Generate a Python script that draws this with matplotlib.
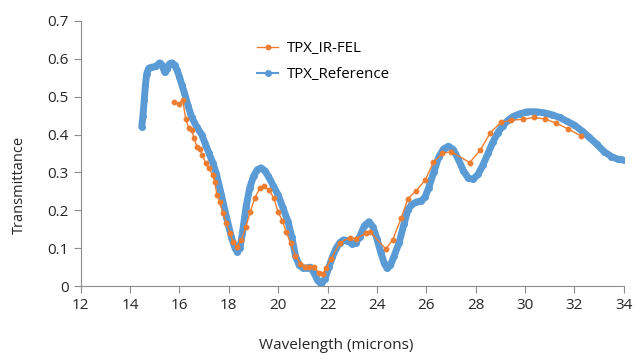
import matplotlib.pyplot as plt
from matplotlib.ticker import FuncFormatter
from matplotlib.lines import Line2D

# reference spectrum (blue)
ref_wl = [14.47, 14.52, 14.57, 14.62, 14.67, 14.75, 14.9, 15.05, 15.2, 15.3, 15.4, 15.5,
          15.6, 15.7, 15.8, 15.9, 16.0, 16.1, 16.2, 16.35, 16.5, 16.7, 16.9, 17.05, 17.2,
          17.35, 17.5, 17.7, 17.9, 18.1, 18.25, 18.35, 18.45, 18.55, 18.7, 18.85, 19.0,
          19.15, 19.3, 19.45, 19.6, 19.8, 20.0, 20.2, 20.4, 20.55, 20.7, 20.85, 21.0,
          21.15, 21.3, 21.45, 21.6, 21.75, 21.9, 22.05, 22.2, 22.35, 22.5, 22.65, 22.8,
          23.0, 23.15, 23.3, 23.5, 23.68, 23.85, 24.0, 24.15, 24.3, 24.41, 24.55, 24.7,
          24.9, 25.1, 25.25, 25.4, 25.6, 25.8, 25.95, 26.1, 26.3, 26.5, 26.7, 26.9, 27.1,
          27.3, 27.5, 27.7, 27.9, 28.1, 28.3, 28.5, 28.7, 28.9, 29.1, 29.3, 29.5, 29.8,
          30.1, 30.45, 30.8, 31.1, 31.4, 31.7, 32.0, 32.3, 32.6, 32.9, 33.2, 33.5, 33.75,
          34.0]
ref_tr = [0.42, 0.45, 0.49, 0.53, 0.56, 0.575, 0.578, 0.58, 0.589, 0.583, 0.564, 0.572,
          0.587, 0.589, 0.583, 0.57, 0.552, 0.53, 0.51, 0.475, 0.445, 0.42, 0.4, 0.375,
          0.35, 0.325, 0.295, 0.24, 0.183, 0.13, 0.1, 0.09, 0.1, 0.14, 0.21, 0.26, 0.29,
          0.307, 0.312, 0.305, 0.29, 0.265, 0.24, 0.205, 0.17, 0.13, 0.08, 0.055, 0.048,
          0.048, 0.05, 0.035, 0.015, 0.005, 0.02, 0.05, 0.077, 0.1, 0.115, 0.122, 0.12,
          0.111, 0.115, 0.13, 0.16, 0.17, 0.155, 0.125, 0.09, 0.06, 0.047, 0.055, 0.08,
          0.115, 0.165, 0.2, 0.215, 0.222, 0.225, 0.235, 0.26, 0.3, 0.34, 0.362, 0.369,
          0.36, 0.335, 0.305, 0.285, 0.282, 0.295, 0.32, 0.35, 0.38, 0.405, 0.423, 0.437,
          0.447, 0.455, 0.46, 0.46, 0.457, 0.452, 0.445, 0.435, 0.425, 0.41, 0.393, 0.375,
          0.355, 0.342, 0.335, 0.333]

# IR-FEL measurement (orange)
fel_wl = [15.77, 15.97, 16.13, 16.25, 16.37, 16.5, 16.59, 16.71, 16.82, 16.93, 17.06,
          17.2, 17.34, 17.43, 17.52, 17.63, 17.76, 17.9, 18.04, 18.17, 18.33, 18.51,
          18.69, 18.87, 19.05, 19.25, 19.41, 19.63, 19.82, 20.0, 20.17, 20.33, 20.5,
          20.7, 20.9, 21.1, 21.25, 21.44, 21.66, 21.82, 21.93, 22.14, 22.5, 22.9, 23.14,
          23.55, 23.73, 24.36, 24.64, 24.98, 25.26, 25.6, 25.96, 26.29, 26.65, 27.01,
          27.76, 28.19, 28.6, 29.02, 29.45, 29.9, 30.36, 30.8, 31.27, 31.74, 32.26]
fel_tr = [0.487, 0.48, 0.491, 0.442, 0.418, 0.412, 0.39, 0.367, 0.362, 0.346, 0.324,
          0.311, 0.293, 0.275, 0.24, 0.223, 0.193, 0.166, 0.14, 0.117, 0.104, 0.121,
          0.157, 0.196, 0.232, 0.258, 0.264, 0.254, 0.232, 0.196, 0.172, 0.143, 0.113,
          0.08, 0.058, 0.05, 0.05, 0.05, 0.035, 0.033, 0.047, 0.071, 0.115, 0.128, 0.125,
          0.139, 0.143, 0.098, 0.122, 0.179, 0.231, 0.252, 0.28, 0.327, 0.35, 0.355,
          0.326, 0.359, 0.405, 0.432, 0.438, 0.44, 0.445, 0.441, 0.43, 0.415, 0.397]

ORANGE = '#ED7D31'
BLUE = '#5B9BD5'

plt.rcParams['font.family'] = ['Open Sans', 'DejaVu Sans']

fig = plt.figure(figsize=(6.41, 3.59), dpi=100)
ax = fig.add_axes([0.126, 0.203, 0.847, 0.739])

ax.plot(fel_wl, fel_tr, color=ORANGE, lw=1, marker='o', ms=3.2, zorder=2)
ax.plot(ref_wl, ref_tr, color=BLUE, lw=5, marker='o', ms=4, zorder=1,
        solid_joinstyle='round', solid_capstyle='round')

ax.set_xlim(12, 34)
ax.set_ylim(0, 0.7)
ax.set_xticks(range(12, 35, 2))
ax.set_yticks([0, 0.1, 0.2, 0.3, 0.4, 0.5, 0.6, 0.7])
ax.yaxis.set_major_formatter(FuncFormatter(lambda v, p: '0' if v == 0 else f'{v:.1f}'))

for s in ['top', 'right']:
    ax.spines[s].set_visible(False)
for s in ['left', 'bottom']:
    ax.spines[s].set_color('#8c8c8c')
ax.tick_params(colors='#8c8c8c', labelcolor='#262626', labelsize=11, length=5, direction='out')

ax.set_xlabel('Wavelength (microns)', fontsize=11, color='#262626')
ax.set_ylabel('Transmittance', fontsize=10.5, color='#262626')
ax.xaxis.set_label_coords(0.47, -0.195)
ax.yaxis.set_label_coords(-0.1, 0.38)

handles = [Line2D([], [], color=ORANGE, lw=1, marker='o', ms=3.2),
           Line2D([], [], color=BLUE, lw=1.5, marker='o', ms=4)]
ax.legend(handles, ['TPX_IR-FEL', 'TPX_Reference'], loc='upper left',
          bbox_to_anchor=(0.3, 0.975), frameon=False, fontsize=10.8,
          handlelength=1.4, handletextpad=0.6, labelspacing=0.75)

plt.savefig('out.png', dpi=100)
